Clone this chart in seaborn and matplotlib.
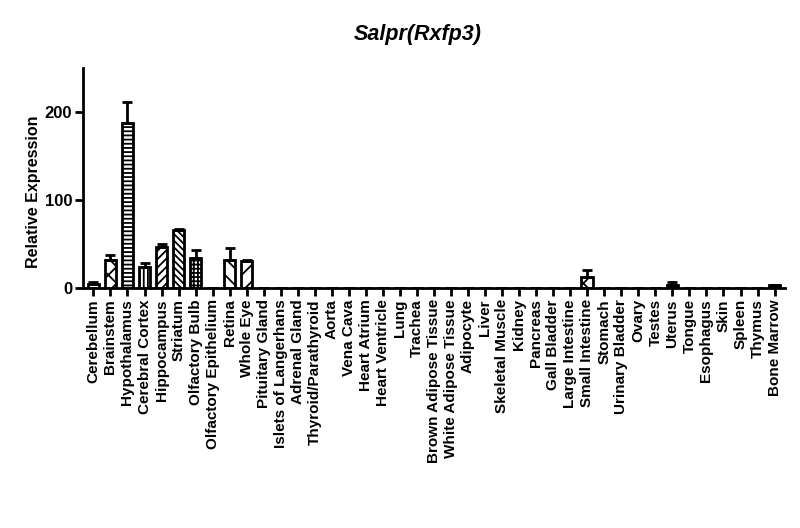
"""Relative expression of Salpr(Rxfp3) across mouse tissues."""

import matplotlib

matplotlib.use("Agg")
import matplotlib.pyplot as plt
import numpy as np
import pandas as pd
import seaborn as sns

tissues = [
    "Cerebellum", "Brainstem", "Hypothalamus", "Cerebral Cortex", "Hippocampus",
    "Striatum", "Olfactory Bulb", "Olfactory Epithelium", "Retina", "Whole Eye",
    "Pituitary Gland", "Islets of Langerhans", "Adrenal Gland", "Thyroid/Parathyroid",
    "Aorta", "Vena Cava", "Heart Atrium", "Heart Ventricle", "Lung", "Trachea",
    "Brown Adipose Tissue", "White Adipose Tissue", "Adipocyte", "Liver",
    "Skeletal Muscle", "Kidney", "Pancreas", "Gall Bladder", "Large Intestine",
    "Small Intestine", "Stomach", "Urinary Bladder", "Ovary", "Testes", "Uterus",
    "Tongue", "Esophagus", "Skin", "Spleen", "Thymus", "Bone Marrow",
]
expression = [
    4.5, 32, 188, 24, 47, 66, 34, 0.3, 32, 31,
    0.3, 0.3, 0.3, 0.3, 0.3, 0.3, 0.3, 0.3, 0.3, 0.3,
    0.3, 0.3, 0.3, 0.3, 0.3, 0.3, 0.3, 0.3, 0.3, 12,
    0.3, 0.3, 0.3, 0.3, 4, 0.3, 0.3, 0.3, 0.3, 0.3, 3,
]
sem = [
    2, 6, 23, 5, 3, 1.5, 9, 0, 14, 1,
    0, 0, 0, 0, 0, 0, 0, 0, 0, 0,
    0, 0, 0, 0, 0, 0, 0, 0, 0, 9,
    0, 0, 0, 0, 2.5, 0, 0, 0, 0, 0, 0.5,
]
hatches = [
    "", "xx", "----", "||||", "////", "\\\\\\\\\\", "++++", "", "\\\\", "//",
    "", "", "", "", "", "", "", "", "", "",
    "", "", "", "", "", "", "", "", "", "xx",
    "", "", "", "", "----", "", "", "", "", "", "",
]

df = pd.DataFrame({"tissue": tissues, "expression": expression})

sns.set_style("ticks")
plt.rcParams["font.family"] = ["Liberation Sans", "DejaVu Sans"]
plt.rcParams["font.weight"] = "bold"
plt.rcParams["hatch.linewidth"] = 1.3
for key in ("text.color", "axes.labelcolor", "xtick.color", "ytick.color", "axes.edgecolor"):
    plt.rcParams[key] = "black"

fig = plt.figure(figsize=(8, 5.28), dpi=100)
ax = fig.add_axes([0.104, 0.4545, 0.877, 0.4165])

sns.barplot(
    data=df, x="tissue", y="expression", color="white", edgecolor="black",
    linewidth=2, width=0.68, errorbar=None, ax=ax,
)
for patch, hatch in zip(ax.patches, hatches):
    patch.set_hatch(hatch)

x = np.arange(len(tissues))
ax.errorbar(
    x, expression, yerr=[np.zeros(len(sem)), sem], fmt="none",
    ecolor="black", elinewidth=2, capsize=3.5, capthick=2, zorder=1,
)

ax.set_xlim(-0.6, len(tissues) - 0.4)
ax.set_ylim(0, 250)
ax.set_yticks([0, 100, 200])
ax.set_xlabel("")
ax.set_ylabel("Relative Expression", fontsize=11.5, fontweight="bold", labelpad=2)
ax.yaxis.set_label_coords(-0.06, 0.44)
ax.tick_params(axis="x", labelrotation=90, labelsize=11, width=2, length=6, pad=2)
ax.tick_params(axis="y", labelsize=12, width=2, length=6, pad=2)
for label in ax.get_xticklabels() + ax.get_yticklabels():
    label.set_fontweight("bold")
sns.despine(ax=ax)
ax.spines["left"].set_linewidth(2)
ax.spines["bottom"].set_linewidth(2)

fig.text(0.5225, 0.934, "Salpr(Rxfp3)", ha="center", va="center",
         fontsize=15.5, fontweight="bold", fontstyle="italic")

fig.savefig("out.png", dpi=100)
